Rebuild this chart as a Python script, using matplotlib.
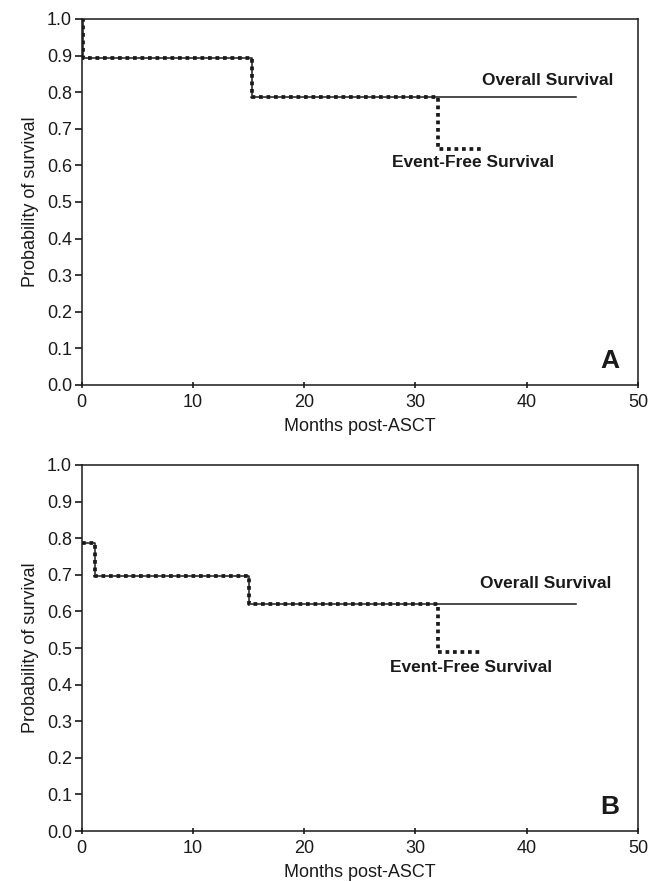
import matplotlib
matplotlib.use("Agg")
import matplotlib.pyplot as plt

plt.rcParams['font.family'] = ['Liberation Sans', 'DejaVu Sans']

# panel A
a_os_t = [0, 0.1, 15.3, 44.4]
a_os_s = [1.0, 0.894, 0.786, 0.786]
a_efs_t = [0, 0.1, 15.3, 32.0, 36.0]
a_efs_s = [1.0, 0.894, 0.786, 0.644, 0.644]

# panel B
b_os_t = [0, 1.2, 15.0, 44.4]
b_os_s = [0.786, 0.696, 0.62, 0.62]
b_efs_t = [0, 1.2, 15.0, 32.0, 36.0]
b_efs_s = [0.786, 0.696, 0.62, 0.49, 0.49]

xticks = [0, 10, 20, 30, 40, 50]
yticks = [0.0, 0.1, 0.2, 0.3, 0.4, 0.5, 0.6, 0.7, 0.8, 0.9, 1.0]

ink = '#1a1a1a'

fig = plt.figure(figsize=(6.6, 8.82), dpi=100)
axA = fig.add_axes([0.1238, 0.5635, 0.8429, 0.415])
axB = fig.add_axes([0.1238, 0.0578, 0.8429, 0.415])


def panel(ax, os_t, os_s, efs_t, efs_s, letter, os_lab, efs_lab):
    ax.step(os_t, os_s, where='post', color=ink, lw=1.1, zorder=2)
    ax.step(efs_t, efs_s, where='post', color=ink, lw=2.7,
            linestyle=(0, (1, 1)), dash_capstyle='butt', zorder=3)
    ax.set_xlim(0, 50)
    ax.set_ylim(0, 1.0)
    ax.set_xticks(xticks)
    ax.set_yticks(yticks)
    ax.set_yticklabels(['%.1f' % v for v in yticks])
    ax.tick_params(axis='y', direction='out', length=5, width=1.2,
                   labelsize=13, colors=ink, pad=2)
    ax.tick_params(axis='x', direction='inout', length=5, width=1.2,
                   labelsize=13, colors=ink, pad=4)
    for s in ax.spines.values():
        s.set_color(ink)
        s.set_linewidth(1.1)
    ax.set_xlabel('Months post-ASCT', fontsize=13, color=ink, labelpad=5)
    ax.set_ylabel('Probability of survival', fontsize=13, color=ink, labelpad=6)
    ax.text(os_lab[0], os_lab[1], 'Overall Survival', fontsize=12.5,
            fontweight='bold', color=ink, va='center', ha='left')
    ax.text(efs_lab[0], efs_lab[1], 'Event-Free Survival', fontsize=12.5,
            fontweight='bold', color=ink, va='center', ha='left')
    ax.text(47.5, 0.066, letter, fontsize=19, fontweight='bold', color=ink,
            va='center', ha='center')


panel(axA, a_os_t, a_os_s, a_efs_t, a_efs_s, 'A', (36.0, 0.833), (27.9, 0.607))
panel(axB, b_os_t, b_os_s, b_efs_t, b_efs_s, 'B', (35.8, 0.675), (27.7, 0.446))

fig.savefig('out.png', dpi=100)
